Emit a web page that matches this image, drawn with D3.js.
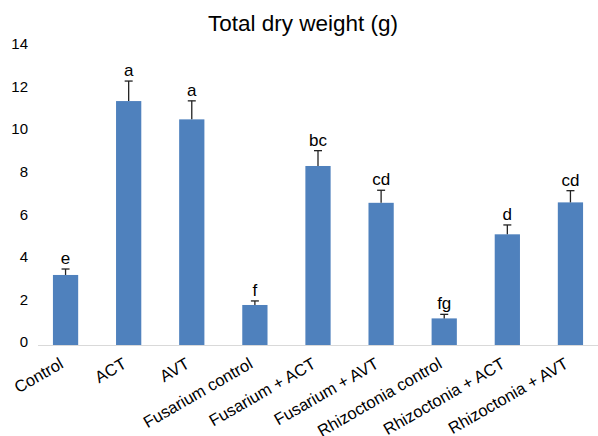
<!DOCTYPE html>
<html>
<head>
<meta charset="utf-8">
<script src="https://cdn.jsdelivr.net/npm/d3@7"></script>
<style>
  body { margin: 0; background: #fff; }
  text { font-family: "Liberation Sans", Arial, sans-serif; fill: #000; }
</style>
</head>
<body>
<div id="chart"></div>
<script>
var categories = ["Control", "ACT", "AVT", "Fusarium control", "Fusarium + ACT",
                  "Fusarium + AVT", "Rhizoctonia control", "Rhizoctonia + ACT", "Rhizoctonia + AVT"];
var means = [3.29, 11.46, 10.6, 1.88, 8.41, 6.68, 1.25, 5.2, 6.7];
var errors = [0.28, 0.94, 0.87, 0.19, 0.72, 0.59, 0.19, 0.44, 0.55];
var letters = ["e", "a", "a", "f", "bc", "cd", "fg", "d", "cd"];
var yTicks = [0, 2, 4, 6, 8, 10, 12, 14];

var width = 598, height = 436;

var svg = d3.select("#chart").append("svg")
    .attr("width", width)
    .attr("height", height);

var x = d3.scaleBand()
    .domain(categories)
    .range([34, 602])
    .paddingInner(0.6)
    .paddingOuter(0.3);

var y = d3.scaleLinear()
    .domain([0, 14])
    .range([345, 47]);

// title
svg.append("text")
    .attr("x", 303)
    .attr("y", 31)
    .attr("text-anchor", "middle")
    .style("font-size", "22.5px")
    .text("Total dry weight (g)");

// y tick labels (no axis line in the original)
svg.selectAll(".ytick")
    .data(yTicks)
    .enter().append("text")
    .attr("class", "ytick")
    .attr("x", 28)
    .attr("y", function(d) { return y(d) - 3; })
    .attr("dy", "0.35em")
    .attr("text-anchor", "end")
    .style("font-size", "15px")
    .text(function(d) { return d; });

// baseline
svg.append("line")
    .attr("x1", 38).attr("x2", width)
    .attr("y1", y(0) + 0.5).attr("y2", y(0) + 0.5)
    .attr("stroke", "#d9d9d9")
    .attr("stroke-width", 1);

// bars
svg.selectAll(".bar")
    .data(means)
    .enter().append("rect")
    .attr("class", "bar")
    .attr("x", function(d, i) { return x(categories[i]); })
    .attr("width", x.bandwidth())
    .attr("y", function(d) { return y(d); })
    .attr("height", function(d) { return y(0) - y(d); })
    .attr("fill", "#4f81bd");

// error bars, upper half only
var err = svg.selectAll(".err")
    .data(means)
    .enter().append("g")
    .attr("class", "err")
    .attr("transform", function(d, i) { return "translate(" + (x(categories[i]) + x.bandwidth() / 2) + ",0)"; });

err.append("line")
    .attr("x1", 0).attr("x2", 0)
    .attr("y1", function(d) { return y(d); })
    .attr("y2", function(d, i) { return y(d + errors[i]); })
    .attr("stroke", "#222")
    .attr("stroke-width", 1.3);

err.append("line")
    .attr("x1", -4).attr("x2", 4)
    .attr("y1", function(d, i) { return y(d + errors[i]); })
    .attr("y2", function(d, i) { return y(d + errors[i]); })
    .attr("stroke", "#222")
    .attr("stroke-width", 1.3);

// significance letters
svg.selectAll(".letter")
    .data(letters)
    .enter().append("text")
    .attr("class", "letter")
    .attr("x", function(d, i) { return x(categories[i]) + x.bandwidth() / 2; })
    .attr("y", function(d, i) { return y(means[i] + errors[i]) - 5; })
    .attr("text-anchor", "middle")
    .style("font-size", "17px")
    .text(function(d) { return d; });

// category labels, rotated
svg.selectAll(".xlab")
    .data(categories)
    .enter().append("text")
    .attr("class", "xlab")
    .attr("text-anchor", "end")
    .attr("transform", function(d) {
        return "translate(" + (x(d) + x.bandwidth() / 2 - 1) + ",367) rotate(-30)";
    })
    .style("font-size", "16.5px")
    .text(function(d) { return d; });
</script>
</body>
</html>
